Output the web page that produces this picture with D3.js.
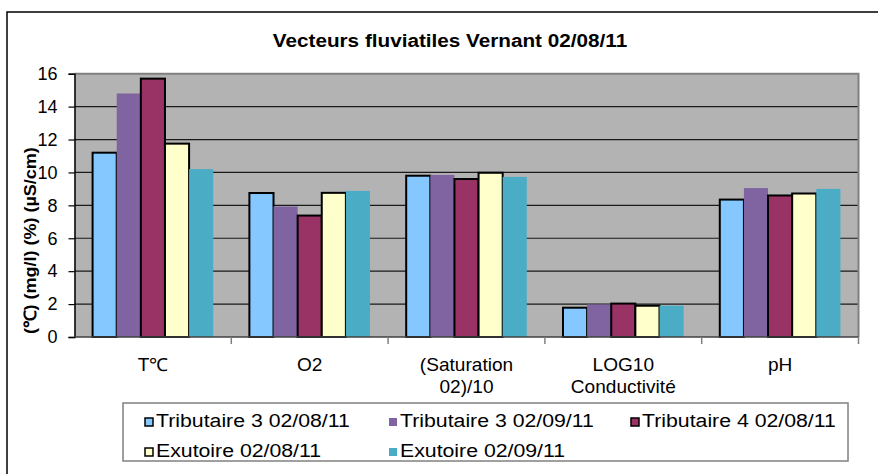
<!DOCTYPE html>
<html>
<head>
<meta charset="utf-8">
<script src="https://cdn.jsdelivr.net/npm/d3@7"></script>
<style>
  html, body { margin: 0; padding: 0; background: #fff; }
  svg { display: block; font-family: "Liberation Sans", Arial, sans-serif; }
</style>
</head>
<body>
<svg id="chart" width="878" height="474"></svg>
<script>
// ---- data ----
const chartTitle = "Vecteurs fluviatiles Vernant 02/08/11";
const yAxisTitle = "(\u2103) (mg/l) (%) (\u00b5S/cm)";
const categories = ["T\u2103", "O2", "(Saturation 02)/10", "LOG10 Conductivit\u00e9", "pH"];
const categoryLines = [["T\u2103"], ["O2"], ["(Saturation", "02)/10"], ["LOG10", "Conductivit\u00e9"], ["pH"]];
const seriesNames = ["Tributaire 3 02/08/11", "Tributaire 3 02/09/11", "Tributaire 4 02/08/11", "Exutoire 02/08/11", "Exutoire 02/09/11"];
const tributaire3_0208 = [11.2, 8.75, 9.8, 1.78, 8.35];
const tributaire3_0209 = [14.8, 7.93, 9.85, 1.98, 9.05];
const tributaire4_0208 = [15.7, 7.38, 9.6, 2.03, 8.6];
const exutoire_0208 = [11.75, 8.76, 9.98, 1.9, 8.72];
const exutoire_0209 = [10.2, 8.88, 9.73, 1.9, 9.0];
const yTicks = [0, 2, 4, 6, 8, 10, 12, 14, 16];

const seriesValues = [tributaire3_0208, tributaire3_0209, tributaire4_0208, exutoire_0208, exutoire_0209];
const seriesColors = ["#85C8FF", "#8064A2", "#993366", "#FFFFCC", "#4BACC6"];
const seriesBordered = [true, false, true, true, false];

// ---- layout ----
const svg = d3.select("#chart");
const plot = { left: 74.5, right: 858.5, top: 73.7, bottom: 337 };

// outer chart border
svg.append("rect").attr("x", 7).attr("y", 12).attr("width", 900).attr("height", 500)
  .attr("fill", "none").attr("stroke", "#000").attr("stroke-width", 1.5);

// title
svg.append("text").attr("transform", "translate(450,47) scale(1.09,1)").attr("text-anchor", "middle")
  .attr("font-size", 19).attr("font-weight", "bold").attr("fill", "#000").text(chartTitle);

const y = d3.scaleLinear().domain([0, 16]).range([plot.bottom, plot.top]);
const x0 = d3.scaleBand().domain(categories).range([plot.left, plot.right])
  .paddingInner(1.5 / 6.5).paddingOuter(0.75 / 6.5);
const x1 = d3.scaleBand().domain(d3.range(seriesNames.length)).range([0, x0.bandwidth()]);

// plot background
svg.append("rect").attr("x", plot.left).attr("y", plot.top)
  .attr("width", plot.right - plot.left).attr("height", plot.bottom - plot.top)
  .attr("fill", "#B3B3B3");

// gridlines
svg.append("g").selectAll("line").data(yTicks.filter(t => t > 0 && t < 16)).join("line")
  .attr("x1", plot.left).attr("x2", plot.right)
  .attr("y1", d => y(d)).attr("y2", d => y(d))
  .attr("stroke", "#1a1a1a").attr("stroke-width", 1.2);

// plot border top/right
svg.append("path")
  .attr("d", `M${plot.left},${plot.top}H${plot.right}V${plot.bottom}`)
  .attr("fill", "none").attr("stroke", "#808080").attr("stroke-width", 2);

// bars
const groups = svg.append("g").selectAll("g").data(categories).join("g")
  .attr("transform", d => `translate(${x0(d)},0)`);
groups.selectAll("rect").data((c, ci) => seriesValues.map((vals, si) => ({ si, v: vals[ci] })))
  .join("rect")
  .attr("x", d => x1(d.si)).attr("width", x1.bandwidth())
  .attr("y", d => y(d.v)).attr("height", d => y(0) - y(d.v))
  .attr("fill", d => seriesColors[d.si])
  .attr("stroke", d => seriesBordered[d.si] ? "#000" : "none")
  .attr("stroke-width", 2);

// y axis
const yAxis = d3.axisLeft(y).tickValues(yTicks).tickSize(6).tickPadding(11).tickFormat(d3.format("d"));
const gy = svg.append("g").attr("transform", `translate(${plot.left},0)`).call(yAxis);
gy.select(".domain").attr("stroke", "#000").attr("stroke-width", 1.5);
gy.selectAll(".tick line").attr("stroke", "#000").attr("stroke-width", 1.2);
gy.selectAll(".tick text").attr("font-size", 18).attr("fill", "#000")
  .attr("font-family", "Liberation Sans, Arial, sans-serif");

// x axis (boundary ticks)
const boundaries = d3.range(categories.length + 1).map(i => plot.left + i * x0.step());
svg.append("line").attr("x1", plot.left).attr("x2", plot.right)
  .attr("y1", plot.bottom).attr("y2", plot.bottom).attr("stroke", "#404040").attr("stroke-width", 1.5);
svg.append("g").selectAll("line").data(boundaries.slice(1)).join("line")
  .attr("x1", d => d).attr("x2", d => d).attr("y1", plot.bottom).attr("y2", plot.bottom + 7)
  .attr("stroke", "#808080").attr("stroke-width", 1.5);

// category labels
const catG = svg.append("g").selectAll("text").data(categories).join("text")
  .attr("text-anchor", "middle").attr("font-size", 18).attr("fill", "#000")
  .attr("transform", d => `translate(${x0(d) + x0.bandwidth() / 2},0) scale(1.06,1)`);
catG.selectAll("tspan").data((d, i) => categoryLines[i]).join("tspan")
  .attr("x", 0)
  .attr("y", (d, i) => 371 + i * 22).text(d => d);

// y axis title (clipped at top like the reference)
svg.append("clipPath").attr("id", "ytclip").append("rect")
  .attr("x", 0).attr("y", 77).attr("width", 60).attr("height", 300);
svg.append("g").attr("clip-path", "url(#ytclip)")
  .append("text").attr("transform", "translate(36,334) rotate(-90) scale(1.06,1)")
  .attr("font-size", 17).attr("font-weight", "bold").attr("fill", "#000").text(yAxisTitle);

// legend
svg.append("rect").attr("x", 123).attr("y", 403).attr("width", 725).attr("height", 58)
  .attr("fill", "#fff").attr("stroke", "#808080").attr("stroke-width", 1.5);
const legendPos = [[145, 418], [389, 418], [631, 418], [145, 448], [389, 448]];
const leg = svg.append("g").selectAll("g").data(seriesNames).join("g")
  .attr("transform", (d, i) => `translate(${legendPos[i][0]},${legendPos[i][1]})`);
leg.append("rect").attr("width", 8).attr("height", 8)
  .attr("fill", (d, i) => seriesColors[i])
  .attr("stroke", (d, i) => seriesBordered[i] ? "#000" : "none").attr("stroke-width", 1.5);
leg.append("text").attr("transform", "translate(11,9) scale(1.12,1)")
  .attr("font-size", 19).attr("fill", "#000")
  .text(d => d);
</script>
</body>
</html>
